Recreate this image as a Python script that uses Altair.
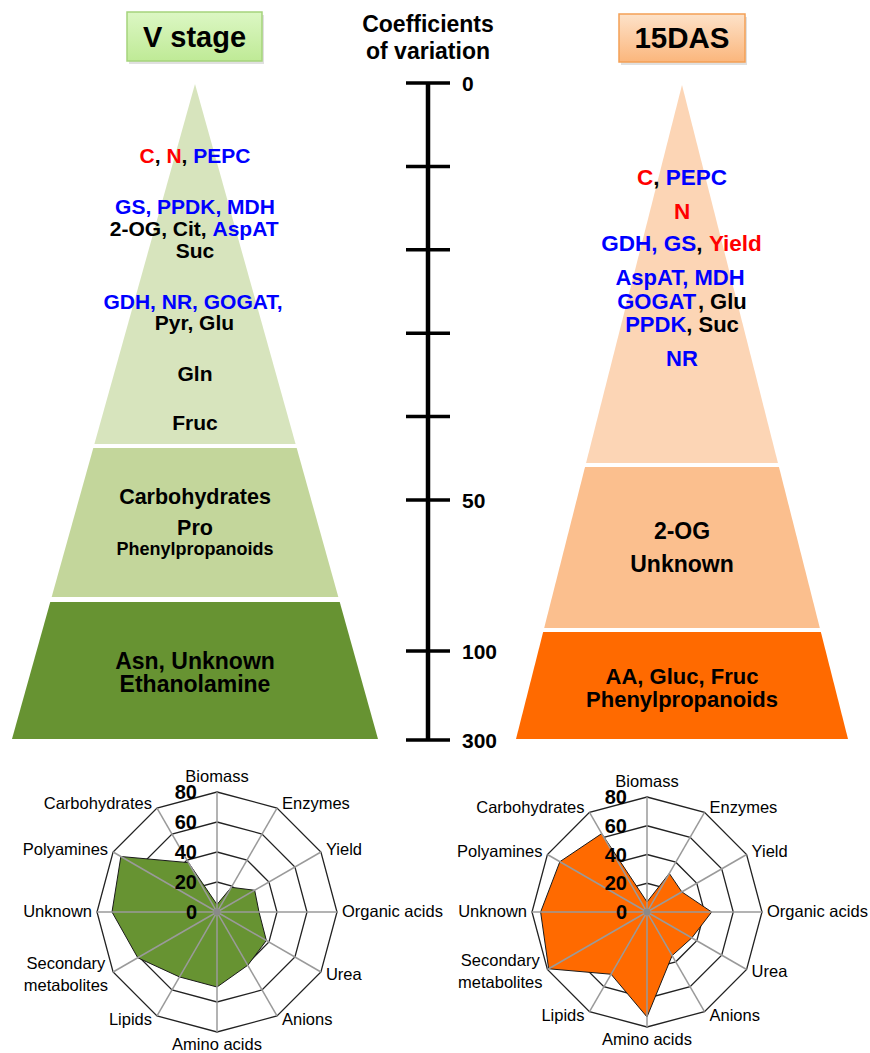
import altair as alt
import numpy as np
import pandas as pd

W, H = 870, 1053
FONT = "Liberation Sans, Arial, sans-serif"
RED, BLUE, BLACK = "#ff0000", "#0000ff", "#000000"

# ---------------- data ----------------
# radar: coefficient of variation (%) per trait class
trait_classes = ["Biomass", "Enzymes", "Yield", "Organic acids", "Urea", "Anions",
                 "Amino acids", "Lipids", "Secondary metabolites", "Unknown",
                 "Polyamines", "Carbohydrates"]
cv_v_stage = [5, 19, 29, 28, 38, 41, 50, 50, 61, 70, 74, 38]
cv_15das = [7, 31, 28, 45, 36, 35, 73, 50, 79, 74, 70, 63]
ring_levels = [20, 40, 60, 80]
ring_labels = [0, 20, 40, 60, 80]

# central CV scale
cv_ticks = [0, 10, 20, 30, 40, 50, 100, 300]
cv_tick_labels = ["0", "", "", "", "", "50", "100", "300"]

# pyramid contents: each line is a list of (text, colour) segments
v_stage_lines = [
    [("C", RED), (", ", BLACK), ("N", RED), (", ", BLACK), ("PEPC", BLUE)],
    [("GS, PPDK, MDH", BLUE)],
    [("2-OG, Cit, ", BLACK), ("AspAT", BLUE)],
    [("Suc", BLACK)],
    [("GDH, NR, GOGAT,", BLUE)],
    [("Pyr, Glu", BLACK)],
    [("Gln", BLACK)],
    [("Fruc", BLACK)],
    [("Carbohydrates", BLACK)],
    [("Pro", BLACK)],
    [("Phenylpropanoids", BLACK)],
    [("Asn, Unknown", BLACK)],
    [("Ethanolamine", BLACK)],
]
das15_lines = [
    [("C", RED), (", ", BLACK), ("PEPC", BLUE)],
    [("N", RED)],
    [("GDH, GS", BLUE), (", ", BLACK), ("Yield", RED)],
    [("AspAT, MDH", BLUE)],
    [("GOGAT", BLUE), (", Glu", BLACK)],
    [("PPDK", BLUE), (", Suc", BLACK)],
    [("NR", BLUE)],
    [("2-OG", BLACK)],
    [("Unknown", BLACK)],
    [("AA, Gluc, Fruc", BLACK)],
    [("Phenylpropanoids", BLACK)],
]

# ---------------- layout ----------------
v_stage_line_y = [157, 207.5, 230, 252, 302.5, 324, 375, 424, 498, 529, 550, 661.5, 685]
v_stage_line_size = [21] * 8 + [21.5, 21.5, 18, 23, 23]
das15_line_y = [178, 212, 244, 278, 301.5, 325, 359, 531.5, 565, 677, 700]
das15_line_size = [22.5] * 3 + [22] * 4 + [23, 23, 22, 22]

pyramid_v = dict(cx=195, apex=84, base=739, half_base=183,
                 bands=[(84, 444), (448, 597), (602, 739)],
                 colors=["#d7e4bd", "#c3d69b", "#679332"])
pyramid_d = dict(cx=682, apex=85, base=739, half_base=166,
                 bands=[(85, 463), (467, 628), (632, 739)],
                 colors=["#fcd5b5", "#fbbf8e", "#ff6a00"])

AXIS_X = 428
cv_anchor = [0, 50, 100, 300]
cv_anchor_px = [83, 500, 651, 740]

# Arial / Liberation Sans advance widths (1/1000 em)
BOLD_W = {' ': 278, ',': 278, '-': 333, '.': 278}
BOLD_W.update(dict(zip("ABCDEFGHIJKLMNOPQRSTUVWXYZ",
                       [722, 722, 722, 722, 667, 611, 778, 722, 278, 556, 722, 611, 833,
                        722, 778, 667, 778, 722, 667, 611, 722, 667, 944, 667, 667, 611])))
BOLD_W.update(dict(zip("abcdefghijklmnopqrstuvwxyz",
                       [556, 611, 556, 611, 556, 333, 611, 611, 278, 278, 556, 278, 889,
                        611, 611, 611, 611, 389, 556, 333, 611, 556, 778, 556, 556, 500])))
REG_W = {' ': 278, ',': 278, '-': 333}
REG_W.update(dict(zip("abcdefghijklmnopqrstuvwxyz",
                      [556, 556, 500, 556, 556, 278, 556, 556, 222, 222, 500, 222, 833,
                       556, 556, 556, 556, 333, 500, 278, 556, 500, 722, 500, 500, 500])))
REG_W.update({c: 667 for c in "ABCDEFGHIJKLMNOPQRSTUVWXYZ"})


def text_width(s, size, table):
    return sum(table.get(ch, 556) for ch in s) * size / 1000.0


texts = []


def add_text(x, y, text, size, color=BLACK, align="center", weight="bold"):
    texts.append(dict(x=x, y=y, text=text, color=color, size=size,
                      align=align, weight=weight))


def add_segmented_line(segs, cx, y, size):
    total = sum(text_width(t, size, BOLD_W) for t, _ in segs)
    x = cx - total / 2
    for t, c in segs:
        add_text(x, y, t, size, c, align="left")
        x += text_width(t, size, BOLD_W)


# ---------------- pyramids ----------------
polys = []  # (points dataframe, fill, stroke)


def pyramid_polys(g):
    def hw(y):
        return g["half_base"] * (y - g["apex"]) / (g["base"] - g["apex"])
    for (y0, y1), col in zip(g["bands"], g["colors"]):
        pts = [(g["cx"] - hw(y0), y0), (g["cx"] + hw(y0), y0),
               (g["cx"] + hw(y1), y1), (g["cx"] - hw(y1), y1)]
        df = pd.DataFrame(pts, columns=["x", "y"])
        df["i"] = range(len(df))
        polys.append((df, col, None))


pyramid_polys(pyramid_v)
pyramid_polys(pyramid_d)

for segs, y, s in zip(v_stage_lines, v_stage_line_y, v_stage_line_size):
    add_segmented_line(segs, pyramid_v["cx"], y, s)
for segs, y, s in zip(das15_lines, das15_line_y, das15_line_size):
    add_segmented_line(segs, pyramid_d["cx"], y, s)

# ---------------- headers ----------------
header_boxes = [
    dict(x=127, x2=262, y=12, y2=61, top="#dcf7c4", bottom="#bfea96", stroke="#a5d47c"),
    dict(x=619, x2=745, y=14, y2=62, top="#fde2c9", bottom="#fbb67c", stroke="#f3a055"),
]
add_text(194.5, 38, "V stage", 29)
add_text(682, 39, "15DAS", 29.5)
add_text(428, 24.5, "Coefficients", 23)
add_text(428, 51.5, "of variation", 23)

# ---------------- CV scale ----------------
tick_px = np.interp(cv_ticks, cv_anchor, cv_anchor_px)
scale_rules = [dict(x=AXIS_X, x2=AXIS_X, y=tick_px[0], y2=tick_px[-1], w=4.5)]
for ty, lab in zip(tick_px, cv_tick_labels):
    scale_rules.append(dict(x=AXIS_X - 22, x2=AXIS_X + 22, y=ty, y2=ty, w=3.5))
    if lab:
        add_text(AXIS_X + 34, ty + 2, lab, 21, align="left")

# ---------------- radars ----------------
label_lines = {"Secondary metabolites": ["Secondary", "metabolites"]}
ring_rows, spoke_rows, dots = [], [], []


def radar(cx, cy, radius, values, fill, tag):
    per = radius / 80.0
    th = np.deg2rad(np.arange(12) * 30.0)
    sx, cy_ = np.sin(th), np.cos(th)
    for lv in ring_levels:
        for k in range(12):
            ring_rows.append(dict(ring=f"{tag}{lv}", i=k,
                                  x=cx + lv * per * sx[k], y=cy - lv * per * cy_[k]))
    for k in range(12):
        spoke_rows.append(dict(x=cx, y=cy, x2=cx + radius * sx[k], y2=cy - radius * cy_[k]))
    pts = pd.DataFrame(dict(x=cx + np.array(values) * per * sx,
                            y=cy - np.array(values) * per * cy_, i=range(12)))
    polys.append((pts, fill, "#1a1a1a"))
    dots.append(dict(x=cx, y=cy))
    for lv in ring_labels:
        add_text(cx - 20, cy - lv * per + 1, str(lv), 20, align="right")
    fs = 16.5
    for k, name in enumerate(trait_classes):
        vx, vy = cx + radius * sx[k], cy - radius * cy_[k]
        if k == 0:
            add_text(vx, vy - 15, name, fs, weight="normal")
        elif k == 6:
            add_text(vx, vy + 13, name, fs, weight="normal")
        elif name in label_lines:
            lines = label_lines[name]
            wmax = max(text_width(t, fs, REG_W) for t in lines)
            side = 1 if k < 6 else -1
            xc = vx + side * (5 + wmax / 2)
            yc = vy - 5 * cy_[k]
            for j, t in enumerate(lines):
                add_text(xc, yc + (j - (len(lines) - 1) / 2) * 22, t, fs, weight="normal")
        else:
            if k < 6:
                add_text(vx + 5, vy - 5 * cy_[k], name, fs, align="left", weight="normal")
            else:
                add_text(vx - 5, vy - 5 * cy_[k], name, fs, align="right", weight="normal")


radar(217, 912, 120, cv_v_stage, "#679332", "v")
radar(647, 912, 115, cv_15das, "#ff6a00", "d")

# ---------------- chart ----------------
xs = alt.Scale(domain=[0, W], range=[0, W], nice=False, zero=False)
ys = alt.Scale(domain=[0, H], range=[0, H], nice=False, zero=False)


def X(f="x"):
    return alt.X(f"{f}:Q", scale=xs, axis=None)


def Y(f="y"):
    return alt.Y(f"{f}:Q", scale=ys, axis=None)


layers = []

# header boxes with soft shadow
hb = pd.DataFrame(header_boxes)
shadow = hb.copy()
shadow[["x", "x2"]] += 2
shadow[["y", "y2"]] += 3
layers.append(alt.Chart(shadow).mark_rect(color="#000000", opacity=0.12).encode(
    x=X(), x2="x2:Q", y=Y(), y2="y2:Q"))
for b in header_boxes:
    grad = alt.LinearGradient(gradient="linear", x1=0, x2=0, y1=0, y2=1,
                              stops=[alt.GradientStop(color=b["top"], offset=0),
                                     alt.GradientStop(color=b["bottom"], offset=1)])
    layers.append(alt.Chart(pd.DataFrame([b])).mark_rect(
        fill=grad, stroke=b["stroke"], strokeWidth=1.5).encode(
        x=X(), x2="x2:Q", y=Y(), y2="y2:Q"))

# radar rings (behind the filled polygons)
layers.append(alt.Chart(pd.DataFrame(ring_rows)).mark_line(
    interpolate="linear-closed", color="#222222", strokeWidth=1.3).encode(
    x=X(), y=Y(), detail="ring:N", order="i:Q"))

# pyramid bands and radar polygons
for df, fill, stroke in polys:
    kw = dict(interpolate="linear-closed", fill=fill, fillOpacity=1)
    if stroke:
        kw.update(stroke=stroke, strokeWidth=1)
    else:
        kw.update(strokeOpacity=0)
    layers.append(alt.Chart(df).mark_line(**kw).encode(x=X(), y=Y(), order="i:Q"))

# radar spokes over the fill
layers.append(alt.Chart(pd.DataFrame(spoke_rows)).mark_rule(
    color="#9a9a9a", strokeWidth=1.5).encode(x=X(), y=Y(), x2="x2:Q", y2="y2:Q"))
layers.append(alt.Chart(pd.DataFrame(dots)).mark_point(
    filled=True, color="#8a8a8a", size=45, opacity=1).encode(x=X(), y=Y()))

# CV scale
sr = pd.DataFrame(scale_rules)
layers.append(alt.Chart(sr).mark_rule(color="black").encode(
    x=X(), y=Y(), x2="x2:Q", y2="y2:Q",
    strokeWidth=alt.StrokeWidth("w:Q", scale=None)))

# texts
tdf = pd.DataFrame(texts)
for (align, weight), g in tdf.groupby(["align", "weight"]):
    layers.append(alt.Chart(g).mark_text(
        align=align, baseline="middle", font=FONT, fontWeight=weight).encode(
        x=X(), y=Y(), text="text:N",
        size=alt.Size("size:Q", scale=None),
        color=alt.Color("color:N", scale=None)))

chart = alt.layer(*layers).properties(
    width=W, height=H, padding=0, background="white",
    autosize=alt.AutoSizeParams(type="none"),
).configure_view(stroke=None)

chart.save("out.html", embed_options={"renderer": "svg", "actions": False})
